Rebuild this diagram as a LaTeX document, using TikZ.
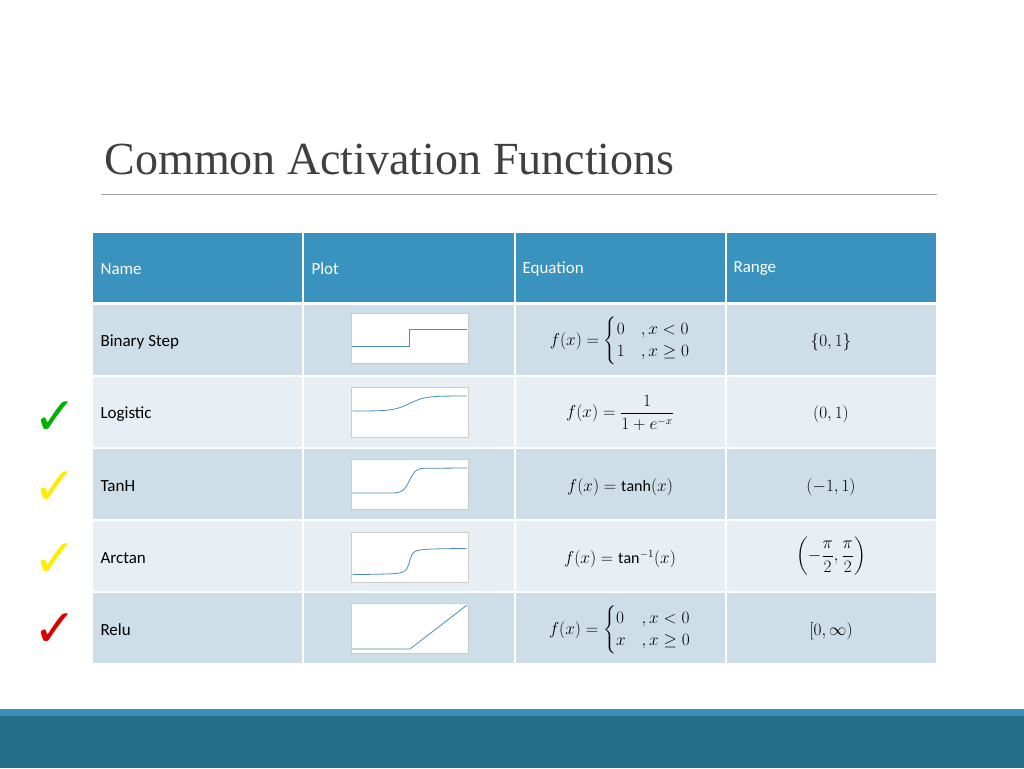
\documentclass[tikz,border=0pt]{standalone}
\usepackage{amsmath,amssymb}
\usepackage{fontspec}
\setmainfont{Carlito}
\newfontfamily\symfont{DejaVu Sans}
\newfontfamily\titlefont{Liberation Serif}
\usetikzlibrary{positioning}
\definecolor{headblue}{HTML}{3A93BE}
\definecolor{rowdark}{HTML}{CDDEE9}
\definecolor{rowlight}{HTML}{E8EFF4}
\definecolor{bardark}{HTML}{256E8A}
\definecolor{barlight}{HTML}{3A8FB7}
\definecolor{curve}{HTML}{4A8DB5}
\tikzset{
  cell/.style={anchor=west,font=\fontsize{17}{20}\selectfont},
  headcell/.style={cell,text=white},
  eqcell/.style={font=\fontsize{16}{19}\selectfont},
  tick/.style={font=\symfont\fontsize{52}{52}\selectfont},
  plotbox/.style={draw=black!20,fill=white,line width=0.6pt}
}
\begin{document}
\begin{tikzpicture}[x=1pt,y=-1pt]
   \useasboundingbox (0,0) rectangle (1024,768);
   % title
   \node[anchor=base west,text=black!75,font=\titlefont\fontsize{46}{50}\selectfont] (title) at (101,174) {Common Activation Functions};
   \draw[black!35,line width=0.8pt] (101,194) -- (937,194);
   % table background
   \fill[headblue] (93,233) rectangle (936,302);
   \foreach \y/\c in {305/rowdark,377/rowlight,449/rowdark,521/rowlight,593/rowdark}
     \fill[\c] (93,\y) rectangle (936,\y+70);
   \foreach \x in {302,514,725}
     \fill[white] (\x,233) rectangle (\x+2,663);
   % header
   \node[headcell] (hname) at (97,269) {Name};
   \node[headcell] (hplot) at (308,269) {Plot};
   \node[headcell] (heq) at (519,269) {Equation};
   \node[headcell] (hrange) at (730,269) {Range};
   % names
   \node[cell] (n1) at (97,342) {Binary Step};
   \node[cell] (n2) at (97,414) {Logistic};
   \node[cell] (n3) at (97,486) {TanH};
   \node[cell] (n4) at (97,558) {Arctan};
   \node[cell] (n5) at (97,630) {Relu};
   % plots
   \foreach \y in {313,387,459,532,603}
     \draw[plotbox] (351,\y) rectangle (468,\y+50);
   \draw[curve,line width=0.8pt] (352,346) -- (409,346) -- (409,329) -- (467,329);
   \draw[curve,line width=0.8pt,domain=-6:6,samples=60] plot ({409.5+\x*9.5},{411-15/(1+exp(-1.2*\x))});
   \draw[curve,line width=0.8pt] (352,493) -- (395,493)
     -- plot[domain=-1.5:1.5,samples=40] ({409.5+\x*9.5},{480.5-12.5*(2/(1+exp(-3*\x))-1)})
     -- (467,468);
   \draw[curve,line width=0.8pt,domain=-6:6,samples=80] plot ({409.5+\x*9.5},{561.5-8.5*rad(atan(4*\x))});
   \draw[curve,line width=0.8pt] (352,649) -- (410,649) -- (467,605);
   % equations
   \node[eqcell] (e1) at (620,341) {$f(x)=\begin{cases}0 & ,x<0\\ 1 & ,x\ge 0\end{cases}$};
   \node[eqcell] (e2) at (620,413) {$f(x)=\dfrac{1}{1+e^{-x}}$};
   \node[eqcell] (e3) at (620,487) {$f(x)=\tanh(x)$};
   \node[eqcell] (e4) at (620,559) {$f(x)=\tan^{-1}(x)$};
   \node[eqcell] (e5) at (620,630) {$f(x)=\begin{cases}0 & ,x<0\\ x & ,x\ge 0\end{cases}$};
   % ranges
   \node[eqcell] (r1) at (831,342) {$\{0,1\}$};
   \node[eqcell] (r2) at (831,414) {$(0,1)$};
   \node[eqcell] (r3) at (831,487) {$(-1,1)$};
   \node[eqcell] (r4) at (831,556) {$\left(-\dfrac{\pi}{2},\dfrac{\pi}{2}\right)$};
   \node[eqcell] (r5) at (831,631) {$[0,\infty)$};
   % check marks
   \node[tick,text=green!70!black] (t1) at (55,418) {✓};
   \node[tick,text=yellow!95!orange] (t2) at (55,488) {✓};
   \node[tick,text=yellow!95!orange] (t3) at (55,560) {✓};
   \node[tick,text=red!85!black] (t4) at (55,630) {✓};
   % bottom bar
   \fill[barlight] (0,709) rectangle (1024,716);
   \fill[bardark] (0,716) rectangle (1024,768);
\end{tikzpicture}
\end{document}
